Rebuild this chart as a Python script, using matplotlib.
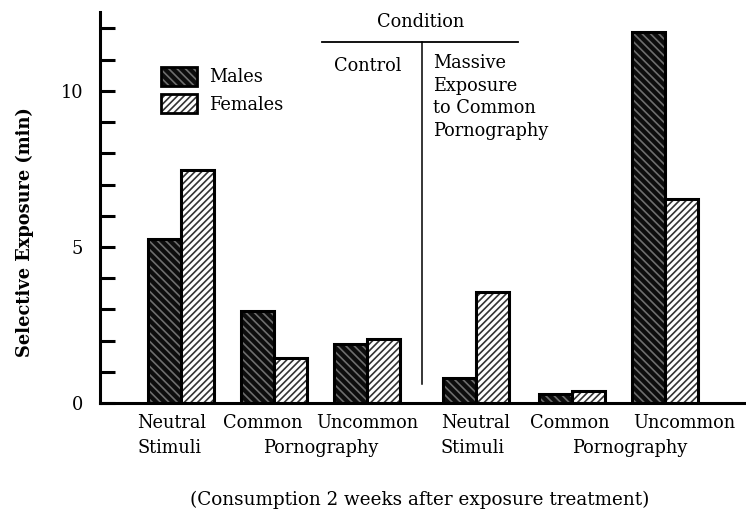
import numpy as np
import matplotlib.pyplot as plt
from matplotlib.patches import Patch
from matplotlib.legend_handler import HandlerTuple
import matplotlib.transforms as mtransforms

plt.rcParams['font.family'] = ['DejaVu Serif']
plt.rcParams['hatch.linewidth'] = 1.2

# data: selective exposure (min)
positions = [0, 1, 2, 3.17, 4.2, 5.2]
top_labels = ["Neutral", "Common", "Uncommon", "Neutral", "Common", "Uncommon"]
males = [5.25, 2.95, 1.9, 0.8, 0.3, 11.9]
females = [7.45, 1.45, 2.05, 3.55, 0.4, 6.55]

width = 0.355
x = np.array(positions)
fs = 12.8

fig = plt.figure(figsize=(7.46, 5.18), dpi=100)
ax = fig.add_axes([0.134, 0.222, 0.866, 0.755])

# males: dark with light hatch, females: white with dark hatch
ax.bar(x - width / 2, males, width, color='#0d0d0d', edgecolor='#6e6e6e',
       hatch='\\\\\\\\', linewidth=0)
ax.bar(x - width / 2, males, width, color='none', edgecolor='black', linewidth=2.2)
ax.bar(x + width / 2, females, width, color='white', edgecolor='#333333',
       hatch='/////', linewidth=0)
ax.bar(x + width / 2, females, width, color='none', edgecolor='black', linewidth=2.2)

ax.set_xlim(-0.87, 6.07)
ax.set_ylim(0, 12.53)
ax.set_yticks(range(0, 13))
ax.set_yticklabels(['0', '', '', '', '', '5', '', '', '', '', '10', '', ''])
ax.set_xticks([])
ax.tick_params(axis='y', direction='in', length=11, width=2.2, pad=12, labelsize=fs)
for s in ['top', 'right']:
    ax.spines[s].set_visible(False)
for s in ['left', 'bottom']:
    ax.spines[s].set_linewidth(2.2)

# category labels below the bars (nudged to where the original puts them)
nudge = [-0.1, -0.12, 0, 0.0, -0.02, 0.21]
trans = mtransforms.blended_transform_factory(ax.transData, ax.transAxes)
for xi, dx, lab in zip(x, nudge, top_labels):
    ax.text(xi + dx, -0.052, lab, transform=trans,
            ha='center', va='center', fontsize=fs)
for xi, dx in [(x[0], -0.47), (x[3], -0.38)]:
    ax.text(xi + dx, -0.114, "Stimuli", transform=trans,
            ha='left', va='center', fontsize=fs)
for a, b, dx in [(x[1], x[2], 0), (x[4], x[5], 0.12)]:
    ax.text((a + b) / 2 + dx, -0.114, "Pornography", transform=trans,
            ha='center', va='center', fontsize=fs)

# condition header
ax.text(2.57, 12.2, "Condition", ha='center', va='center', fontsize=fs)
ax.plot([1.52, 3.62], [11.57, 11.57], color='black', lw=1.3, clip_on=False)
ax.plot([2.59, 2.59], [11.57, 0.6], color='black', lw=1.1)
ax.text(1.64, 10.8, "Control", ha='left', va='center', fontsize=fs)
ax.text(2.71, 11.17, "Massive\nExposure\nto Common\nPornography", ha='left',
        va='top', fontsize=fs, linespacing=1.32)

# legend
h_m = (Patch(facecolor='#0d0d0d', edgecolor='#6e6e6e', hatch='\\\\\\\\', linewidth=0),
       Patch(facecolor='none', edgecolor='black', linewidth=2))
h_f = (Patch(facecolor='white', edgecolor='#333333', hatch='/////', linewidth=0),
       Patch(facecolor='none', edgecolor='black', linewidth=2))
ax.legend([h_m, h_f], ["Males", "Females"], handler_map={tuple: HandlerTuple(ndivide=1, pad=0)},
          loc='upper left', bbox_to_anchor=(0.07, 0.9), frameon=False, fontsize=fs,
          handlelength=2.0, handleheight=1.25, handletextpad=0.7, labelspacing=0.45)

fig.text(0.034, 1 - 232 / 518, "Selective Exposure (min)", rotation=90,
         ha='center', va='center', fontsize=fs, fontweight='bold')
fig.text(0.563, 0.035, "(Consumption 2 weeks after exposure treatment)",
         ha='center', va='center', fontsize=fs + 0.4)

fig.savefig('out.png', dpi=100)
